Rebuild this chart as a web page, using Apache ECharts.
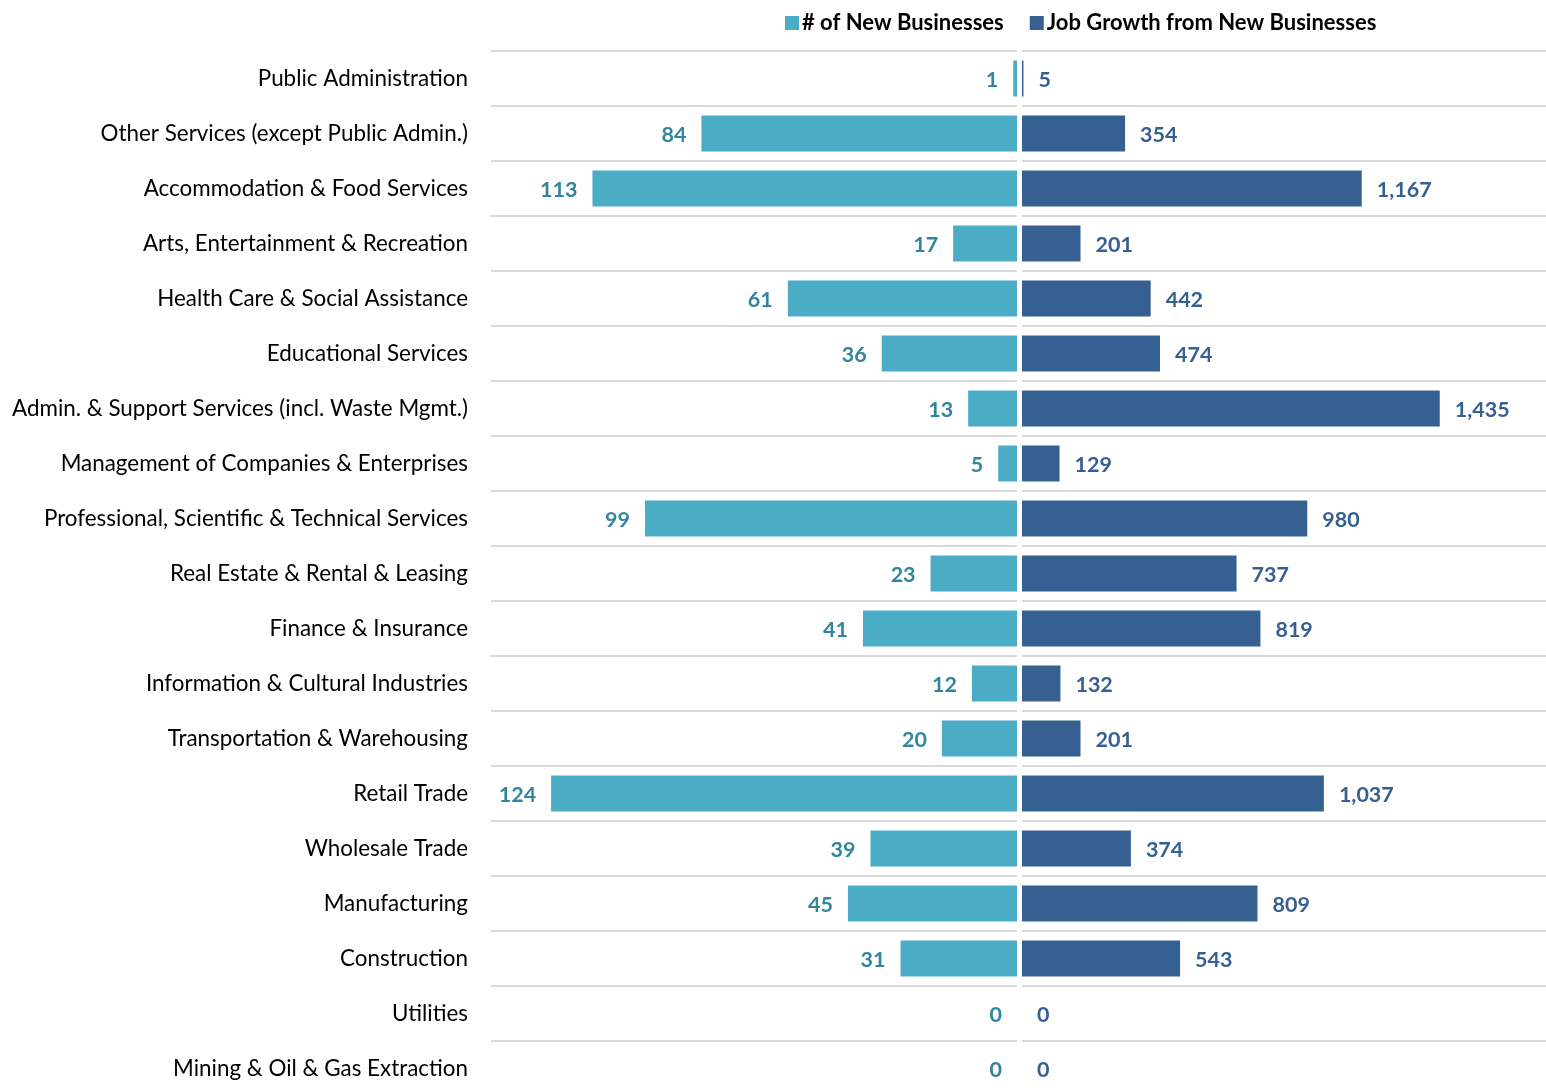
<!DOCTYPE html>
<html>
<head>
<meta charset="utf-8">
<script src="https://cdn.jsdelivr.net/npm/echarts@6/dist/echarts.min.js"></script>
<style>
html,body{margin:0;padding:0;background:#fff;}
#chart{width:1546px;height:1090px;}
</style>
</head>
<body>
<div id="chart"></div>
<script>
const categories = [
  "Public Administration",
  "Other Services (except Public Admin.)",
  "Accommodation & Food Services",
  "Arts, Entertainment & Recreation",
  "Health Care & Social Assistance",
  "Educational Services",
  "Admin. & Support Services (incl. Waste Mgmt.)",
  "Management of Companies & Enterprises",
  "Professional, Scientific & Technical Services",
  "Real Estate & Rental & Leasing",
  "Finance & Insurance",
  "Information & Cultural Industries",
  "Transportation & Warehousing",
  "Retail Trade",
  "Wholesale Trade",
  "Manufacturing",
  "Construction",
  "Utilities",
  "Mining & Oil & Gas Extraction"
];
const newBusinesses = [1, 84, 113, 17, 61, 36, 13, 5, 99, 23, 41, 12, 20, 124, 39, 45, 31, 0, 0];
const jobGrowth = [5, 354, 1167, 201, 442, 474, 1435, 129, 980, 737, 819, 132, 201, 1037, 374, 809, 543, 0, 0];
const seriesNames = ["# of New Businesses", "Job Growth from New Businesses"];
const leftMax = 140;
const rightMax = 1800;

const FONT = "Lato";
const chart = echarts.init(document.getElementById('chart'));
const fmt = v => v.toLocaleString('en-US');

const catAxisBase = {
  type: 'category',
  data: categories,
  inverse: true,
  axisLine: {show: false},
  axisTick: {show: false},
  splitLine: {show: true, lineStyle: {color: '#d9d9d9', width: 2}}
};

chart.setOption({
  animation: false,
  legend: {
    left: 780, top: 7,
    itemWidth: 14, itemHeight: 14, itemGap: 26,
    icon: 'rect',
    textStyle: {fontFamily: FONT, fontSize: 22, fontWeight: 'bold', color: '#000', padding: [0, 0, 0, -2]},
    data: seriesNames
  },
  grid: [
    {left: 491, width: 526, top: 51, height: 1045, outerBoundsMode: 'none', containLabel: false},
    {left: 1022, width: 524, top: 51, height: 1045, outerBoundsMode: 'none', containLabel: false}
  ],
  xAxis: [
    {type: 'value', gridIndex: 0, min: 0, max: leftMax, inverse: true, show: false, splitLine: {show: false}},
    {type: 'value', gridIndex: 1, min: 0, max: rightMax, show: false, splitLine: {show: false}}
  ],
  yAxis: [
    Object.assign({}, catAxisBase, {
      gridIndex: 0,
      axisLabel: {show: true, margin: 23, fontFamily: FONT, fontSize: 22.4, color: '#000', padding: [2, 0, 0, 0]}
    }),
    Object.assign({}, catAxisBase, {
      gridIndex: 1,
      axisLabel: {show: false}
    })
  ],
  series: [
    {
      name: seriesNames[0], type: 'bar', xAxisIndex: 0, yAxisIndex: 0,
      data: newBusinesses, barWidth: 36,
      itemStyle: {color: '#4BACC6'},
      label: {show: true, position: 'left', distance: 15, offset: [0, 2], formatter: p => fmt(p.value),
        fontFamily: FONT, fontSize: 21.5, fontWeight: 'bold', color: '#31859C'}
    },
    {
      name: seriesNames[1], type: 'bar', xAxisIndex: 1, yAxisIndex: 1,
      data: jobGrowth, barWidth: 36,
      itemStyle: {color: '#366092'},
      label: {show: true, position: 'right', distance: 15, offset: [0, 2], formatter: p => fmt(p.value),
        fontFamily: FONT, fontSize: 21.5, fontWeight: 'bold', color: '#366092'}
    }
  ]
});
</script>
</body>
</html>
